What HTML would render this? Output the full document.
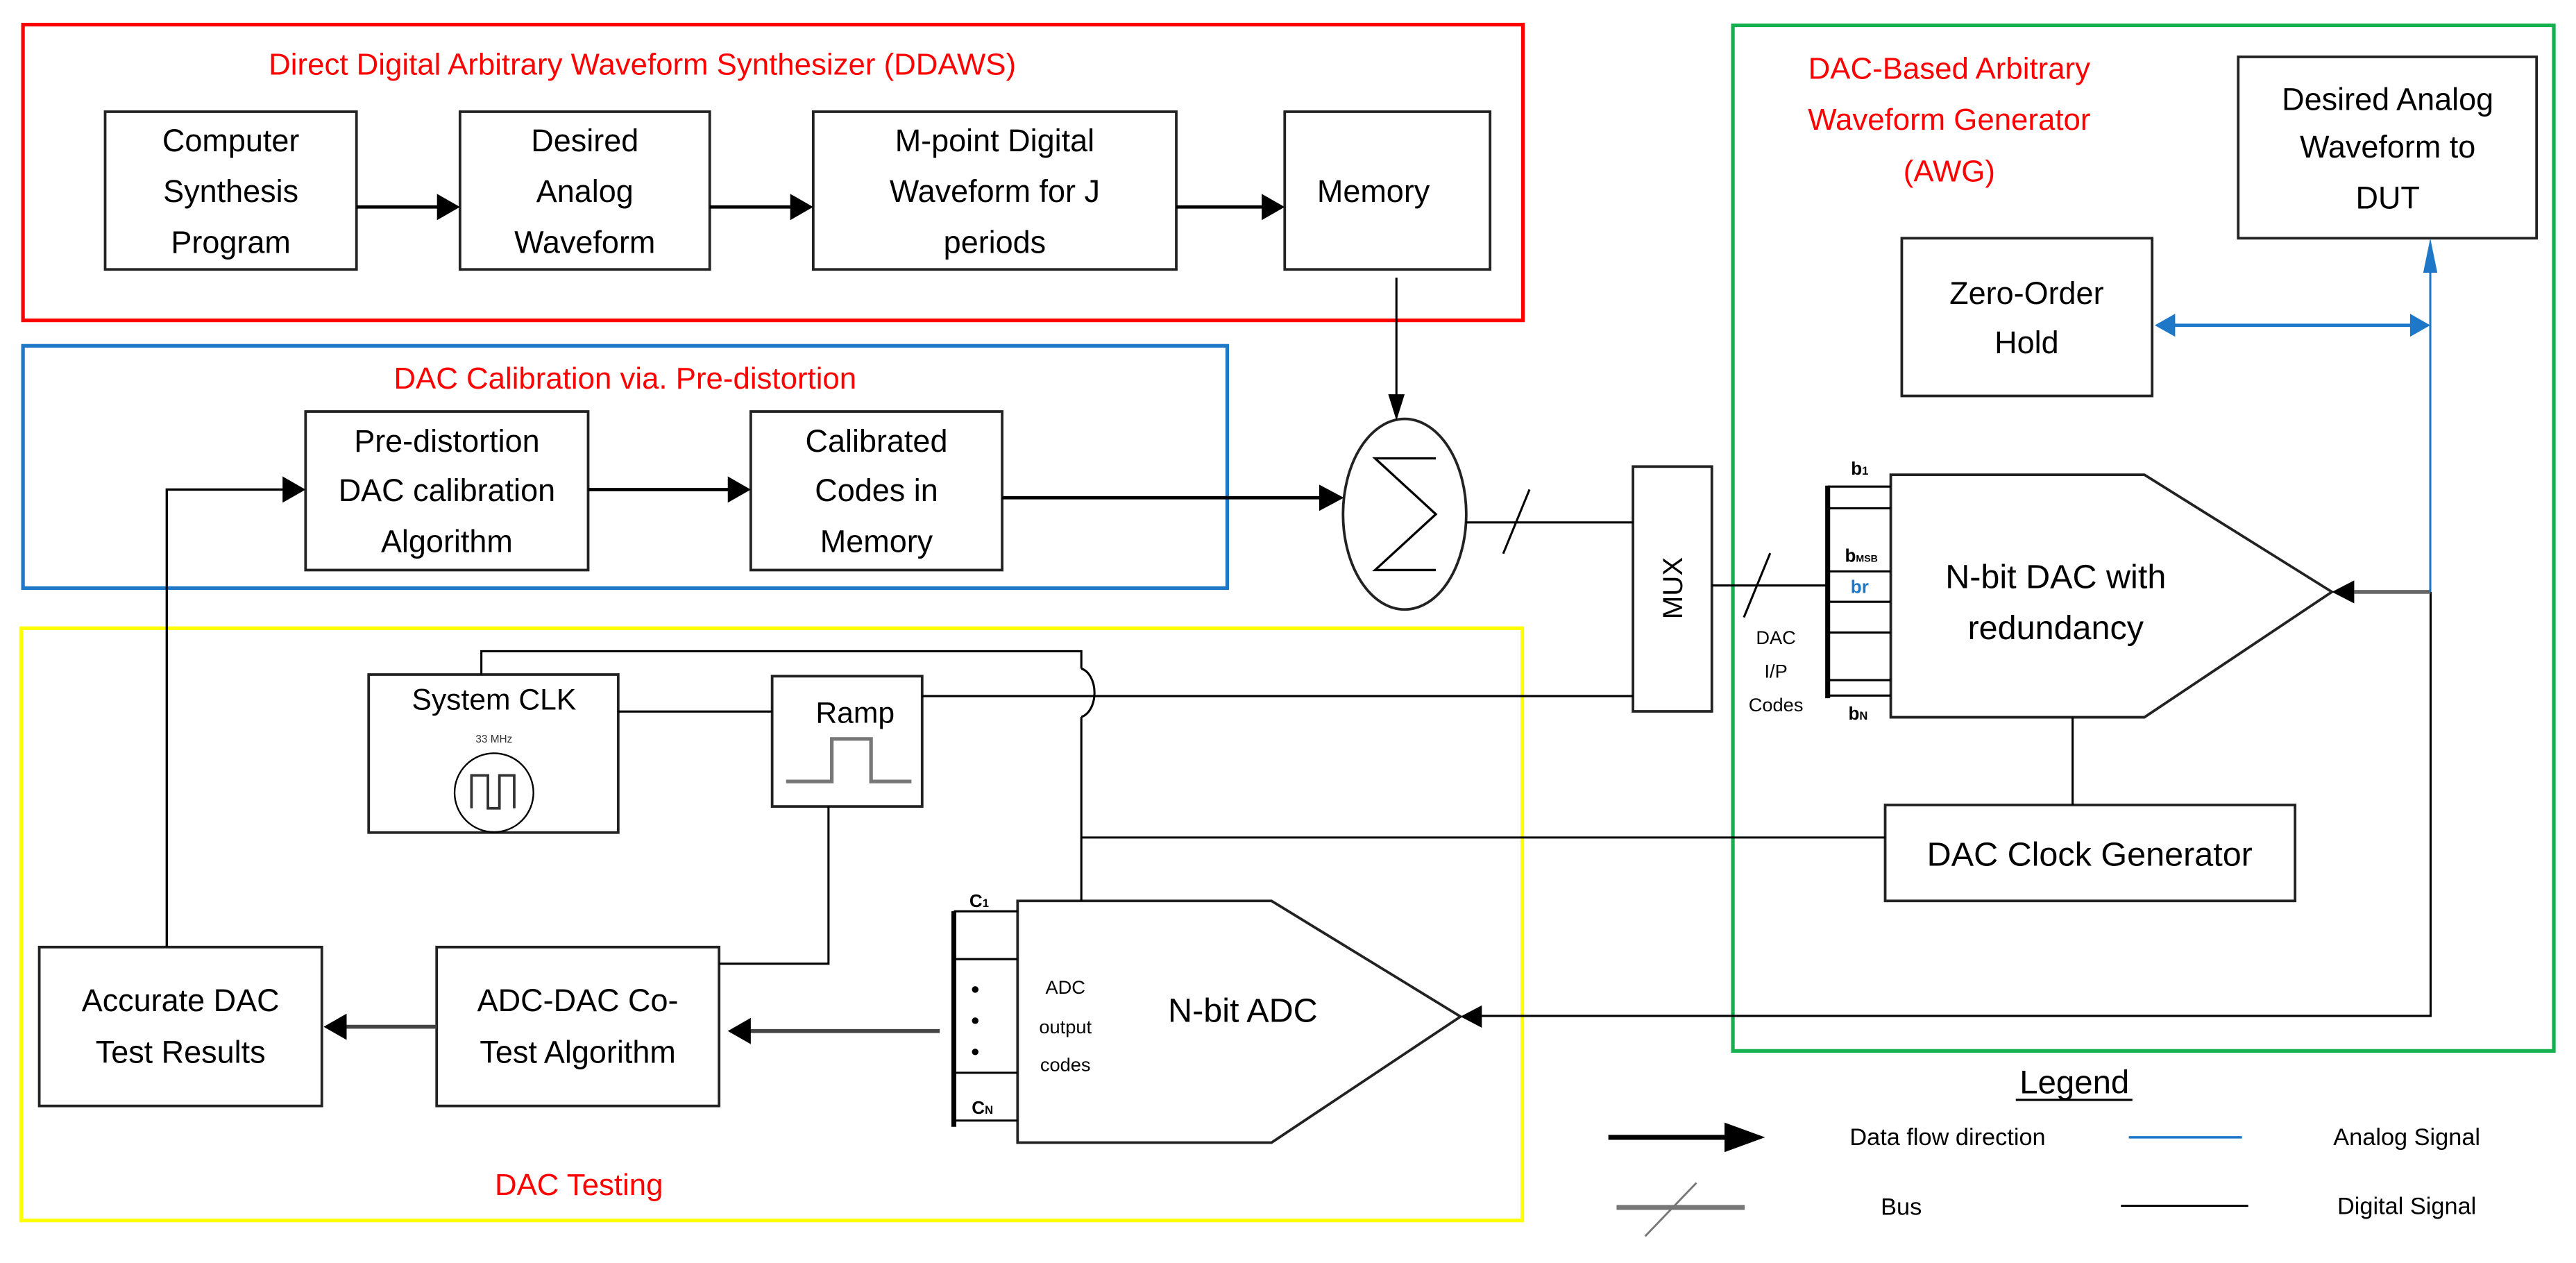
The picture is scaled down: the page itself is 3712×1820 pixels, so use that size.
<!DOCTYPE html>
<html><head><meta charset="utf-8">
<style>
html,body{margin:0;padding:0;background:#fff;}
svg{display:block;}
text{font-family:"Liberation Sans",sans-serif;}
</style></head>
<body>
<svg width="3712" height="1820" viewBox="0 0 1568 768.8" preserveAspectRatio="none" xmlns="http://www.w3.org/2000/svg">
<rect x="0" y="0" width="1568" height="768.8" fill="#fff"/>
<g fill="none" stroke-width="2.2">
<rect x="14" y="15" width="913" height="180" stroke="#f00"/>
<rect x="14" y="210.5" width="733" height="147.5" stroke="#1f77c8"/>
<rect x="13" y="382.4" width="913.6" height="360.5" stroke="#ff0"/>
<rect x="1054.8" y="15.4" width="499.7" height="624.3" stroke="#14b050"/>
</g>
<g font-size="18.5" fill="#f00" text-anchor="middle">
<text x="391" y="45.5">Direct Digital Arbitrary Waveform Synthesizer (DDAWS)</text>
<text x="380.5" y="236.5">DAC Calibration via. Pre-distortion</text>
<text x="352.4" y="727.5">DAC Testing</text>
<text x="1186.5" y="48">DAC-Based Arbitrary</text>
<text x="1186.5" y="79">Waveform Generator</text>
<text x="1186.5" y="110.5">(AWG)</text>
</g>
<g fill="none" stroke="#222" stroke-width="1.6">
<rect x="64" y="68" width="153" height="96"/>
<rect x="280" y="68" width="152" height="96"/>
<rect x="495" y="68" width="221" height="96"/>
<rect x="782" y="68" width="125" height="96"/>
<rect x="186" y="250.5" width="172" height="96.5"/>
<rect x="457" y="250.5" width="153" height="96.5"/>
<rect x="1362.4" y="34.6" width="181.6" height="110.4"/>
<rect x="1157.6" y="145" width="152.4" height="96"/>
<rect x="994" y="284" width="48" height="149"/>
<rect x="1147.5" y="490" width="249.5" height="58.4"/>
<rect x="224.4" y="410.6" width="151.9" height="96.2"/>
<rect x="470" y="411.6" width="91.3" height="79.3"/>
<rect x="23.9" y="576.5" width="172" height="96.7"/>
<rect x="265.8" y="576.5" width="171.9" height="96.7"/>
<polygon points="1150.9,289 1305.3,289 1419.4,360.3 1305.3,436.6 1150.9,436.6"/>
<polygon points="619.4,548.4 774,548.4 889,618.8 774,695.5 619.4,695.5"/>
<ellipse cx="855" cy="313" rx="37.5" ry="58"/>
</g>
<g font-size="19" fill="#000" text-anchor="middle">
<text x="140.5" y="92">Computer</text><text x="140.5" y="123">Synthesis</text><text x="140.5" y="154">Program</text>
<text x="356" y="92">Desired</text><text x="356" y="123">Analog</text><text x="356" y="154">Waveform</text>
<text x="605.5" y="92">M-point Digital</text><text x="605.5" y="123">Waveform for J</text><text x="605.5" y="154">periods</text>
<text x="836" y="123">Memory</text>
<text x="272" y="275">Pre-distortion</text><text x="272" y="305">DAC calibration</text><text x="272" y="336">Algorithm</text>
<text x="533.5" y="275">Calibrated</text><text x="533.5" y="305">Codes in</text><text x="533.5" y="336">Memory</text>
<text x="1453.4" y="67">Desired Analog</text><text x="1453.4" y="96">Waveform to</text><text x="1453.4" y="127">DUT</text>
<text x="1233.6" y="185">Zero-Order</text><text x="1233.6" y="215">Hold</text>
<text x="1251.3" y="358" font-size="20.5">N-bit DAC with</text><text x="1251.3" y="389" font-size="20.5">redundancy</text>
<text x="1272" y="527" font-size="20.5">DAC Clock Generator</text>
<text x="300.7" y="432" font-size="18">System CLK</text>
<text x="520.5" y="440" font-size="18">Ramp</text>
<text x="109.9" y="615.5">Accurate DAC</text><text x="109.9" y="647">Test Results</text>
<text x="351.7" y="615.5">ADC-DAC Co-</text><text x="351.7" y="647">Test Algorithm</text>
<text x="756.5" y="622" font-size="20.5">N-bit ADC</text>
<text x="1262.7" y="665.5" font-size="20">Legend</text>
</g>
<text x="300.7" y="452" font-size="6.5" text-anchor="middle" fill="#333" font-family="Liberation Sans,sans-serif">33 MHz</text>
<text x="1018" y="358" font-size="17" text-anchor="middle" transform="rotate(-90 1018 358)" dy="6">MUX</text>
<g font-size="11.5" text-anchor="middle" fill="#000">
<text x="1081" y="392">DAC</text><text x="1081" y="412.5">I/P</text><text x="1081" y="433">Codes</text>
<text x="648.5" y="605">ADC</text><text x="648.5" y="629">output</text><text x="648.5" y="652">codes</text>
</g>
<g font-size="11" font-weight="bold" fill="#000" text-anchor="middle">
<text x="1132" y="289">b<tspan font-size="7">1</tspan></text>
<text x="1133" y="342">b<tspan font-size="6">MSB</tspan></text>
<text x="1132" y="361" fill="#1f77c8">br</text>
<text x="1131" y="438">b<tspan font-size="7">N</tspan></text>
<text x="596" y="552">C<tspan font-size="7">1</tspan></text>
<text x="598" y="678">C<tspan font-size="7">N</tspan></text>
</g>
<line x1="1227" y1="669.5" x2="1298" y2="669.5" stroke="#000" stroke-width="1.3"/>
<g font-size="14.5" fill="#000" text-anchor="middle">
<text x="1185.5" y="697">Data flow direction</text>
<text x="1465" y="697">Analog Signal</text>
<text x="1157.3" y="739.5">Bus</text>
<text x="1465" y="739">Digital Signal</text>
</g>
<g stroke="#000" stroke-width="2" fill="none">
<line x1="217" y1="126" x2="268" y2="126"/>
<line x1="432" y1="126" x2="483" y2="126"/>
<line x1="716" y1="126" x2="770" y2="126"/>
<line x1="358" y1="298" x2="445" y2="298"/>
<line x1="610" y1="303" x2="805" y2="303"/>
<polyline points="101.5,576.5 101.5,298 174,298" stroke-width="1.4"/>
<line x1="265.8" y1="625" x2="209" y2="625" stroke="#444" stroke-width="2.4"/>
<line x1="572" y1="627.6" x2="455" y2="627.6" stroke="#444" stroke-width="2.4"/>
</g>
<g stroke="#000" stroke-width="1.3" fill="none">
<line x1="850" y1="169" x2="850" y2="243"/>
<polyline points="874,279 837,279 874,313 837,347 874,347" stroke-width="1.4"/>
<line x1="892" y1="318" x2="994" y2="318"/>
<line x1="931" y1="298" x2="915" y2="337"/>
<line x1="1042" y1="356.4" x2="1112" y2="356.4"/>
<line x1="1077.5" y1="336.7" x2="1061.5" y2="375.8"/>
<line x1="1112.5" y1="295.6" x2="1112.5" y2="425" stroke-width="3"/>
<line x1="1112.5" y1="296.2" x2="1150.9" y2="296.2"/>
<line x1="1112.5" y1="309.4" x2="1150.9" y2="309.4"/>
<line x1="1112.5" y1="347.8" x2="1150.9" y2="347.8"/>
<line x1="1112.5" y1="366.3" x2="1150.9" y2="366.3"/>
<line x1="1112.5" y1="385" x2="1150.9" y2="385"/>
<line x1="1112.5" y1="414" x2="1150.9" y2="414"/>
<line x1="1112.5" y1="423.4" x2="1150.9" y2="423.4"/>
<line x1="1261.6" y1="436.6" x2="1261.6" y2="490"/>
<line x1="658.2" y1="509.8" x2="1147.5" y2="509.8"/>
<polyline points="293,410.6 293,396.4 658.2,396.4 658.2,407"/>
<path d="M658.2,407 A10,15 0 0 1 658.2,436.4"/>
<line x1="658.2" y1="436.4" x2="658.2" y2="548.4"/>
<line x1="376.3" y1="433.1" x2="470" y2="433.1"/>
<line x1="561.3" y1="423.7" x2="994" y2="423.7"/>
<polyline points="504.3,490.9 504.3,586.6 437.7,586.6"/>
<polyline points="1479.5,360.3 1479.5,618.4 900,618.4"/>
<line x1="580.6" y1="554.7" x2="580.6" y2="685.9" stroke-width="3"/>
<line x1="580.6" y1="554.7" x2="619.4" y2="554.7"/>
<line x1="580.6" y1="583.8" x2="619.4" y2="583.8"/>
<line x1="580.6" y1="653" x2="619.4" y2="653"/>
<line x1="580.6" y1="682.1" x2="619.4" y2="682.1"/>
<line x1="1291" y1="734" x2="1368.5" y2="734"/>
</g>
<g fill="#000">
<circle cx="593.6" cy="602.3" r="2"/><circle cx="593.6" cy="621.3" r="2"/><circle cx="593.6" cy="640.3" r="2"/>
</g>
<ellipse cx="300.7" cy="482.5" rx="24" ry="24" fill="none" stroke="#000" stroke-width="1"/>
<polyline points="287,492 287,472 297,472 297,492 304,492 304,472 313,472 313,492" fill="none" stroke="#333" stroke-width="1.6"/>
<polyline points="478.5,475.7 506.3,475.7 506.3,449.8 530.2,449.8 530.2,475.7 554.8,475.7" fill="none" stroke="#777" stroke-width="2.2"/>
<g fill="#000">
<polygon points="280,126 266,118 266,134"/>
<polygon points="495,126 481,118 481,134"/>
<polygon points="782,126 768,118 768,134"/>
<polygon points="457,298 443,290 443,306"/>
<polygon points="186,298 172,290 172,306"/>
<polygon points="818,303 803,295 803,311"/>
<polygon points="850,256 845,240 855,240"/>
<polygon points="197,625 211,617 211,633"/>
<polygon points="443,627.6 457,619.6 457,635.6"/>
<polygon points="889,618.8 902,612 902,625.6"/>
<polygon points="1419.4,360.3 1433,353.3 1433,367.3"/>
<polygon points="1074.4,692.3 1049.7,683.3 1049.7,701.3"/>
</g>
<line x1="1433" y1="360.3" x2="1479.5" y2="360.3" stroke="#666" stroke-width="2.4"/>
<g stroke="#1f77c8" stroke-width="1.3" fill="none">
<line x1="1479.3" y1="160" x2="1479.3" y2="360.3"/>
<line x1="1322" y1="198" x2="1468" y2="198" stroke-width="2"/>
<line x1="1295.8" y1="692.3" x2="1364.7" y2="692.3" stroke-width="1.5"/>
</g>
<g fill="#1f77c8">
<polygon points="1479.3,145 1475,166 1483.6,166"/>
<polygon points="1311.6,198 1324,191 1324,205"/>
<polygon points="1479.3,198 1467,191 1467,205"/>
</g>
<line x1="979" y1="692.3" x2="1052" y2="692.3" stroke="#000" stroke-width="3"/>
<line x1="984" y1="735" x2="1062" y2="735" stroke="#777" stroke-width="3"/>
<line x1="1032.6" y1="720" x2="1001.4" y2="752.5" stroke="#777" stroke-width="1.2"/>
</svg>
</body></html>
